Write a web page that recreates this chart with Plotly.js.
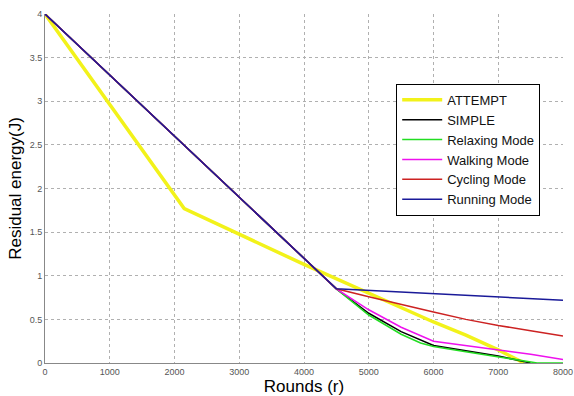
<!DOCTYPE html>
<html>
<head>
<meta charset="utf-8">
<script src="https://cdn.plot.ly/plotly-3.0.1.min.js"></script>
<style>html,body{margin:0;padding:0;background:#fff;}#chart{width:574px;height:396px;}</style>
</head>
<body>
<div id="chart"></div>
<script>
// Data
const attemptX = [0, 2150, 4000, 5000, 6000, 6500, 7000, 7400];
const attemptY = [4, 1.77, 1.13, 0.80, 0.47, 0.32, 0.15, 0.0];

const simpleX = [0, 4500, 5000, 5500, 6000, 6500, 7000, 7500];
const simpleY = [4, 0.85, 0.57, 0.36, 0.20, 0.14, 0.08, 0.0];

const relaxX = [0, 4500, 5000, 5500, 5800, 6000, 6500, 7000, 7600, 8000];
const relaxY = [4, 0.85, 0.55, 0.33, 0.23, 0.19, 0.13, 0.07, 0.0, 0.0];

const walkX = [0, 4500, 5000, 5500, 6000, 6500, 7000, 7500, 8000];
const walkY = [4, 0.85, 0.61, 0.41, 0.25, 0.20, 0.15, 0.10, 0.04];

const cycleX = [0, 4500, 5000, 5500, 6000, 6500, 7000, 7500, 8000];
const cycleY = [4, 0.85, 0.76, 0.67, 0.585, 0.50, 0.43, 0.37, 0.31];

const runX = [0, 4500, 8000];
const runY = [4, 0.85, 0.72];

const names = ['ATTEMPT', 'SIMPLE', 'Relaxing Mode', 'Walking Mode', 'Cycling Mode', 'Running Mode'];

const xTicks = [0, 1000, 2000, 3000, 4000, 5000, 6000, 7000, 8000];
const yTicks = [0, 0.5, 1, 1.5, 2, 2.5, 3, 3.5, 4];

function tr(x, y, name, color, width) {
  return {x: x, y: y, name: name, type: 'scatter', mode: 'lines',
          line: {color: color, width: width}};
}

const data = [
  tr(attemptX, attemptY, names[0], '#f2f21a', 3.5),
  tr(simpleX, simpleY, names[1], '#000000', 1.5),
  tr(relaxX, relaxY, names[2], '#22dd22', 1.5),
  tr(walkX, walkY, names[3], '#ee11ee', 1.5),
  tr(cycleX, cycleY, names[4], '#cc2222', 1.5),
  tr(runX, runY, names[5], '#1a1a99', 1.5)
];

const layout = {
  width: 574, height: 396,
  margin: {l: 45, r: 11, t: 14, b: 33},
  paper_bgcolor: '#ffffff', plot_bgcolor: '#ffffff',
  font: {family: 'Liberation Sans, Arial, sans-serif', color: '#000'},
  showlegend: true,
  legend: {
    x: 0.678, y: 0.80, xanchor: 'left', yanchor: 'top',
    bgcolor: '#ffffff', bordercolor: '#000000', borderwidth: 1,
    font: {size: 13, color: '#111'},
    itemwidth: 40,
    tracegroupgap: 0
  },
  xaxis: {
    range: [0, 8000], tickvals: xTicks, ticktext: xTicks.map(String),
    showgrid: true, gridcolor: '#b0b0b0', griddash: 'dot', gridwidth: 1,
    zeroline: false, showline: true, linecolor: '#888888', linewidth: 1,
    ticks: '', tickfont: {size: 9, color: '#555'},
    ticklabeloverflow: 'allow',
    title: {text: 'Rounds (r)', font: {size: 17, color: '#000'}, standoff: 4}
  },
  yaxis: {
    range: [0, 4], tickvals: yTicks, ticktext: yTicks.map(String),
    showgrid: true, gridcolor: '#b0b0b0', griddash: 'dot', gridwidth: 1,
    zeroline: false, showline: true, linecolor: '#888888', linewidth: 1,
    ticks: '', tickfont: {size: 9, color: '#555'},
    title: {text: 'Residual energy(J)', font: {size: 17, color: '#000'}, standoff: 3}
  }
};

Plotly.newPlot('chart', data, layout, {displayModeBar: false, staticPlot: true});
</script>
</body>
</html>
